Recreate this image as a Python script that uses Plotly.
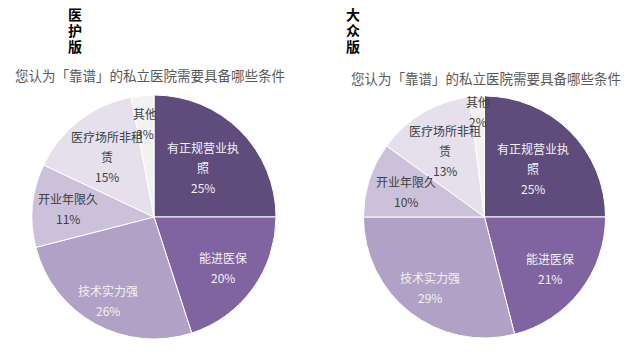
import math
import plotly.graph_objects as go

W, H = 640, 352

categories = ["有正规营业执照", "能进医保", "技术实力强", "开业年限久", "医疗场所非租赁", "其他"]
label_lines = [["有正规营业执", "照"], ["能进医保"], ["技术实力强"], ["开业年限久"], ["医疗场所非租", "赁"], ["其他"]]
medical_values = [25, 20, 26, 11, 15, 3]
public_values = [25, 21, 29, 10, 13, 2]
panel_titles = ["医护版", "大众版"]
question = "您认为「靠谱」的私立医院需要具备哪些条件"

colors = ["#5F4B7C", "#8064A2", "#B2A1C7", "#CCC1DA", "#E5E0EC", "#F2F2F2"]
text_colors = ["#F2F2F2", "#F2F2F2", "#F2F2F2", "#404040", "#404040", "#404040"]
FONT = "Noto Sans CJK SC, Microsoft YaHei, sans-serif"

# pie centres / radii in pixels (style)
pies = [
    dict(values=medical_values, cx=154, cy=217, r=122, rf=[0.57, 0.70, 0.78, 0.71, 0.63, 0.77],
         title_x=75, title_y=30, q_x=150, q_y=75),
    dict(values=public_values, cx=484.5, cy=217, r=121, rf=[0.57, 0.69, 0.74, 0.68, 0.64, 0.87],
         title_x=353, title_y=30, q_x=485.5, q_y=78),
]

fig = go.Figure()
annotations = []
for p, ttl in zip(pies, panel_titles):
    cx, cy, r = p["cx"], p["cy"], p["r"]
    fig.add_trace(go.Pie(
        labels=categories, values=p["values"], sort=False, direction="clockwise", rotation=0,
        marker=dict(colors=colors, line=dict(color="white", width=1)),
        textinfo="none", hoverinfo="label+percent", showlegend=False,
        domain=dict(x=[(cx - r) / W, (cx + r) / W], y=[1 - (cy + r) / H, 1 - (cy - r) / H]),
    ))
    total = sum(p["values"])
    cum = 0
    for i, v in enumerate(p["values"]):
        mid = (cum + v / 2) / total * 2 * math.pi
        cum += v
        d = p["rf"][i] * r
        px = cx + d * math.sin(mid)
        py = cy - d * math.cos(mid)
        lines = label_lines[i] + [f"{round(v / total * 100)}%"]
        n = len(lines)
        for j, t in enumerate(lines):
            off = (j - (n - 1) / 2) * 20
            annotations.append(dict(
                x=px / W, y=1 - (py + off) / H, xref="paper", yref="paper",
                text=t, showarrow=False, xanchor="center", yanchor="middle",
                font=dict(family=FONT, size=12, color=text_colors[i]),
            ))
    chars = list(ttl)
    for j, ch in enumerate(chars):
        off = (j - (len(chars) - 1) / 2) * 16
        annotations.append(dict(
            x=p["title_x"] / W, y=1 - (p["title_y"] + off) / H, xref="paper", yref="paper",
            text="<b>" + ch + "</b>", showarrow=False,
            xanchor="center", yanchor="middle",
            font=dict(family=FONT, size=14, color="#000000"),
        ))
    annotations.append(dict(
        x=p["q_x"] / W, y=1 - p["q_y"] / H, xref="paper", yref="paper",
        text=question, showarrow=False, xanchor="center", yanchor="middle",
        font=dict(family=FONT, size=13.5, color="#595959"),
    ))

fig.update_layout(
    width=W, height=H, margin=dict(l=0, r=0, t=0, b=0),
    paper_bgcolor="white", plot_bgcolor="white",
    annotations=annotations,
)
fig.write_html("out.html")
